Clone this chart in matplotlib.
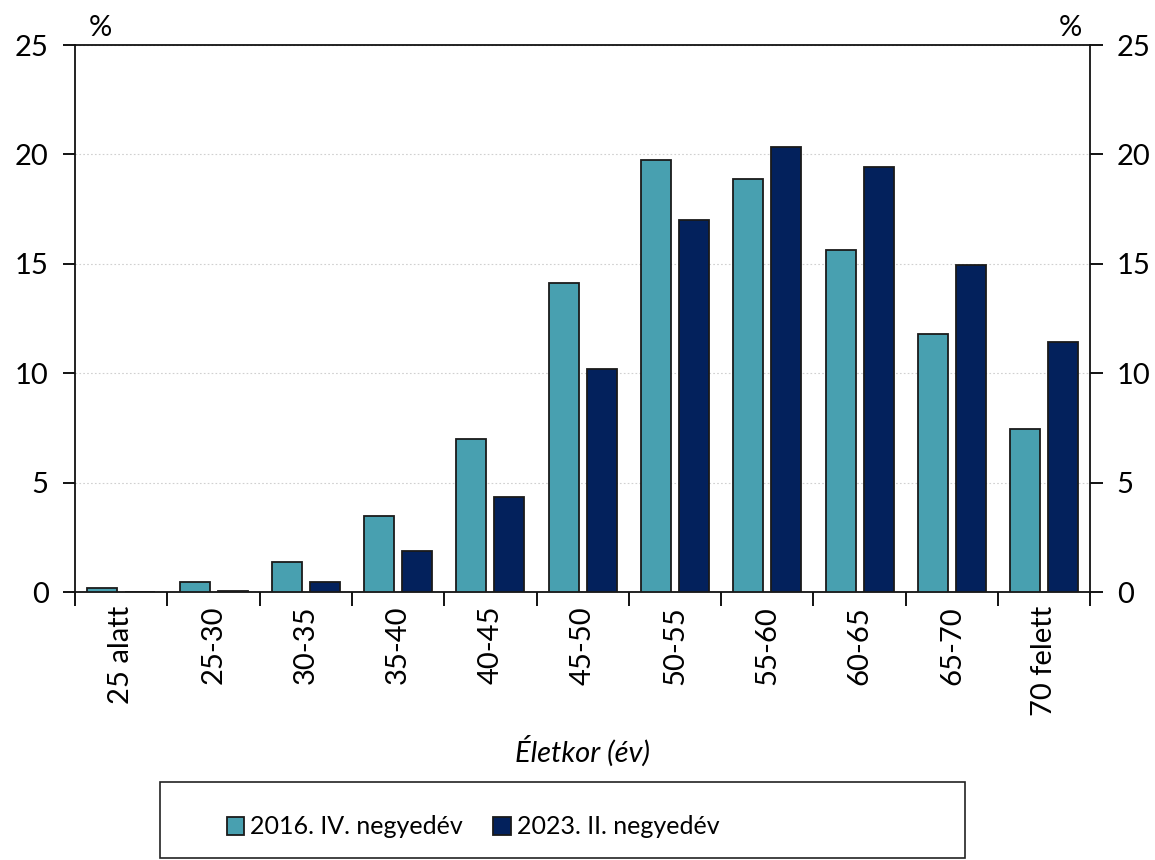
import matplotlib

matplotlib.use("Agg")
import matplotlib.pyplot as plt
from matplotlib.patches import Rectangle
import numpy as np

plt.rcParams["font.family"] = ["Lato", "DejaVu Sans"]

categories = ["25 alatt", "25-30", "30-35", "35-40", "40-45", "45-50",
              "50-55", "55-60", "60-65", "65-70", "70 felett"]
values_2016 = [0.17, 0.44, 1.39, 3.47, 6.99, 14.12, 19.73, 18.9, 15.62, 11.79, 7.45]
values_2023 = [0.02, 0.03, 0.47, 1.87, 4.34, 10.19, 17.0, 20.33, 19.44, 14.95, 11.43]
label_2016 = "2016. IV. negyedév"
label_2023 = "2023. II. negyedév"

COL_2016 = "#48a0b0"
COL_2023 = "#03215c"
FS = 21

fig = plt.figure(figsize=(11.55, 8.6), dpi=100)
ax = fig.add_axes([0.065, 0.3116, 0.879, 0.636])

x = np.arange(len(categories))
w = 0.325
ax.bar(x - 0.206, values_2016, w, color=COL_2016, edgecolor="#1a1a1a",
       linewidth=1.3, label=label_2016, zorder=3)
ax.bar(x + 0.206, values_2023, w, color=COL_2023, edgecolor="#1a1a1a",
       linewidth=1.3, label=label_2023, zorder=3)

ax.set_xlim(-0.5, len(categories) - 0.5)
ax.set_ylim(0, 25)
ax.set_yticks([0, 5, 10, 15, 20, 25])
ax.yaxis.grid(True, linestyle=(0, (1.5, 2)), color="#d0d0d0", linewidth=0.8, zorder=0)

# category boundary ticks on the x axis
ax.set_xticks(np.arange(-0.5, len(categories) + 0.5, 1))
ax.set_xticklabels([])
ax.set_xticks(x, minor=True)
ax.set_xticklabels(categories, minor=True, rotation=90, fontsize=FS)
ax.tick_params(axis="x", which="major", length=10, width=1.3, direction="out")
ax.tick_params(axis="x", which="minor", length=0, pad=10)

ax.tick_params(axis="y", labelsize=FS, length=9, width=1.3, direction="out",
               left=True, right=True, labelleft=True, labelright=True, pad=10)
for s in ["left", "right", "top", "bottom"]:
    ax.spines[s].set_linewidth(1.3)
    ax.spines[s].set_color("#111111")

ax.set_xlabel("Életkor (év)", fontsize=FS, style="italic", labelpad=14)

fig.text(100 / 1155, 1 - 28 / 860, "%", fontsize=FS, ha="center", va="center")
fig.text(1070 / 1155, 1 - 28 / 860, "%", fontsize=FS, ha="center", va="center")

# legend box
fig.patches.append(Rectangle((160 / 1155, 1 - 858 / 860), 805 / 1155, 76 / 860,
                             transform=fig.transFigure, fill=False,
                             edgecolor="#222222", linewidth=1.2))
handles, labels = ax.get_legend_handles_labels()
fig.legend(handles, labels, loc="center left",
           bbox_to_anchor=(214 / 1155, 1 - 827 / 860),
           bbox_transform=fig.transFigure, ncol=2, fontsize=18,
           frameon=False, handlelength=0.7, handleheight=0.7,
           handletextpad=0.25, columnspacing=1.2, borderpad=0)

fig.savefig("out.png", dpi=100)
